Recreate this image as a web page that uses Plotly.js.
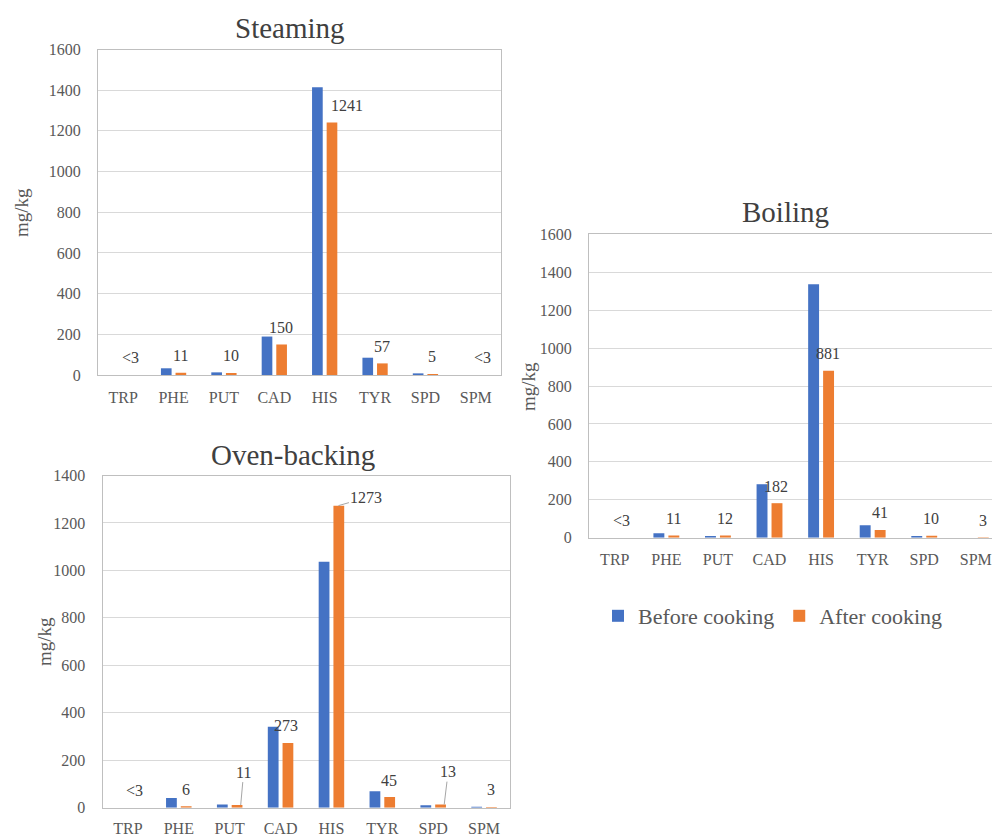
<!DOCTYPE html>
<html>
<head>
<meta charset="utf-8">
<script src="https://cdn.plot.ly/plotly-3.0.1.min.js"></script>
<style>
  html, body { margin: 0; padding: 0; overflow: hidden; background: #fff; }
  #chart { width: 1010px; height: 837px; }
</style>
</head>
<body>
<div id="chart"></div>
<script>
// ---- data ----
const categories = ['TRP', 'PHE', 'PUT', 'CAD', 'HIS', 'TYR', 'SPD', 'SPM'];
const seriesNames = ['Before cooking', 'After cooking'];

const steamBefore = [0, 33, 13, 189, 1415, 85, 8, 0];
const steamAfter  = [0, 11, 10, 150, 1241, 57, 5, 0];
const steamLabels = ['<3', '11', '10', '150', '1241', '57', '5', '<3'];

const boilBefore = [0, 23, 9, 282, 1337, 65, 9, 0];
const boilAfter  = [0, 11, 12, 182, 881, 41, 10, 3];
const boilLabels = ['<3', '11', '12', '182', '881', '41', '10', '3'];

const ovenBefore = [0, 41, 14, 341, 1037, 69, 10, 4];
const ovenAfter  = [0, 6, 11, 273, 1273, 45, 13, 3];
const ovenLabels = ['<3', '6', '11', '273', '1273', '45', '13', '3'];

const panelTitles = ['Steaming', 'Boiling', 'Oven-backing'];
const yTitle = 'mg/kg';

// ---- style ----
const W = 1010, H = 837;
const px = v => v / W;
const py = v => (H - v) / H;
const BLUE = '#4472C4', ORANGE = '#ED7D31';
const FONT = 'Liberation Serif, Times New Roman, serif';
const TICKC = '#595959', LABELC = '#404040';

const panels = [
  { before: steamBefore, after: steamAfter, labels: steamLabels, title: panelTitles[0],
    xa: 'x', ya: 'y', xdom: [px(98), px(501)], ydom: [py(375), py(49.5)], range: [0, 1600],
    titlePos: [290, 28], yTitlePos: [22, 213], xStandoff: 8,
    shifts: { 4: { dx: 15 } }, leaders: {} },
  { before: boilBefore, after: boilAfter, labels: boilLabels, title: panelTitles[1],
    xa: 'x2', ya: 'y2', xdom: [px(589), px(1001.6)], ydom: [py(537.7), py(234.3)], range: [0, 1600],
    titlePos: [785, 212], yTitlePos: [528, 387], xStandoff: 7,
    shifts: { 3: { dx: -1 } }, leaders: {} },
  { before: ovenBefore, after: ovenAfter, labels: ovenLabels, title: panelTitles[2],
    xa: 'x3', ya: 'y3', xdom: [px(102.5), px(509.5)], ydom: [py(807.7), py(475.5)], range: [0, 1400],
    titlePos: [293, 455], yTitlePos: [44, 642], xStandoff: 6,
    shifts: { 3: { dx: -2 } },
    leaders: { 2: { tipdx: 5, ax: 3, ay: -33 }, 6: { tipdx: 5, ax: 4, ay: -33 }, 4: { tipdx: 1, ax: 28, ay: -8 } } }
];

const traces = [];
const annotations = [];
const layout = {
  width: W, height: H,
  margin: { l: 0, r: 0, t: 0, b: 0 },
  paper_bgcolor: '#fff', plot_bgcolor: '#fff',
  barmode: 'group', bargap: 0.42, bargroupgap: 0.27,
  font: { family: FONT, color: TICKC },
  showlegend: true,
  legend: { orientation: 'h', x: px(598), y: py(616), xanchor: 'left', yanchor: 'middle',
            font: { family: FONT, size: 22, color: TICKC }, bgcolor: 'rgba(0,0,0,0)' },
  annotations: annotations
};

panels.forEach((p, k) => {
  const idx = k === 0 ? '' : String(k + 1);
  traces.push({ type: 'bar', x: categories, y: p.before, name: seriesNames[0], xaxis: p.xa, yaxis: p.ya,
    marker: { color: BLUE }, legendgroup: 'b', showlegend: k === 0, hoverinfo: 'x+y' });
  traces.push({ type: 'bar', x: categories, y: p.after, name: seriesNames[1], xaxis: p.xa, yaxis: p.ya,
    marker: { color: ORANGE }, legendgroup: 'a', showlegend: k === 0, hoverinfo: 'x+y' });

  layout['xaxis' + idx] = {
    domain: p.xdom, anchor: p.ya, type: 'category',
    showline: true, linecolor: '#bfbfbf', linewidth: 1, mirror: true,
    showgrid: false, zeroline: false, ticks: '', ticklabelstandoff: p.xStandoff,
    tickfont: { family: FONT, size: 16, color: TICKC }, fixedrange: true
  };
  layout['yaxis' + idx] = {
    domain: p.ydom, anchor: p.xa, range: p.range, dtick: 200,
    showline: true, linecolor: '#bfbfbf', linewidth: 1, mirror: true,
    showgrid: true, gridcolor: '#d9d9d9', gridwidth: 1, zeroline: false,
    ticks: '', ticklabelstandoff: 13,
    tickfont: { family: FONT, size: 16, color: TICKC }, fixedrange: true
  };

  // panel title
  annotations.push({ xref: 'paper', yref: 'paper', x: px(p.titlePos[0]), y: py(p.titlePos[1]),
    text: p.title, showarrow: false, xanchor: 'center', yanchor: 'middle',
    font: { family: FONT, size: 29, color: '#404040' } });
  // y title
  annotations.push({ xref: 'paper', yref: 'paper', x: px(p.yTitlePos[0]), y: py(p.yTitlePos[1]),
    text: yTitle, showarrow: false, textangle: -90, xanchor: 'center', yanchor: 'middle',
    font: { family: FONT, size: 19, color: TICKC } });

  // data labels on "after" bars
  categories.forEach((c, i) => {
    const lead = p.leaders[i];
    if (lead) {
      annotations.push({ xref: p.xa, yref: p.ya, x: c, y: p.after[i], xshift: 7 + lead.tipdx - 1,
        text: p.labels[i], showarrow: true, arrowhead: 0, arrowwidth: 1, arrowcolor: '#a6a6a6',
        ax: lead.ax, ay: lead.ay, standoff: 0,
        font: { family: FONT, size: 16, color: LABELC } });
    } else {
      const s = p.shifts[i] || {};
      annotations.push({ xref: p.xa, yref: p.ya, x: c, y: p.after[i],
        xshift: 7 + (s.dx || 0), yshift: 17, text: p.labels[i], showarrow: false,
        xanchor: 'center', yanchor: 'middle',
        font: { family: FONT, size: 16, color: LABELC } });
    }
  });
});

Plotly.newPlot('chart', traces, layout, { displayModeBar: false, staticPlot: true });
</script>
</body>
</html>
